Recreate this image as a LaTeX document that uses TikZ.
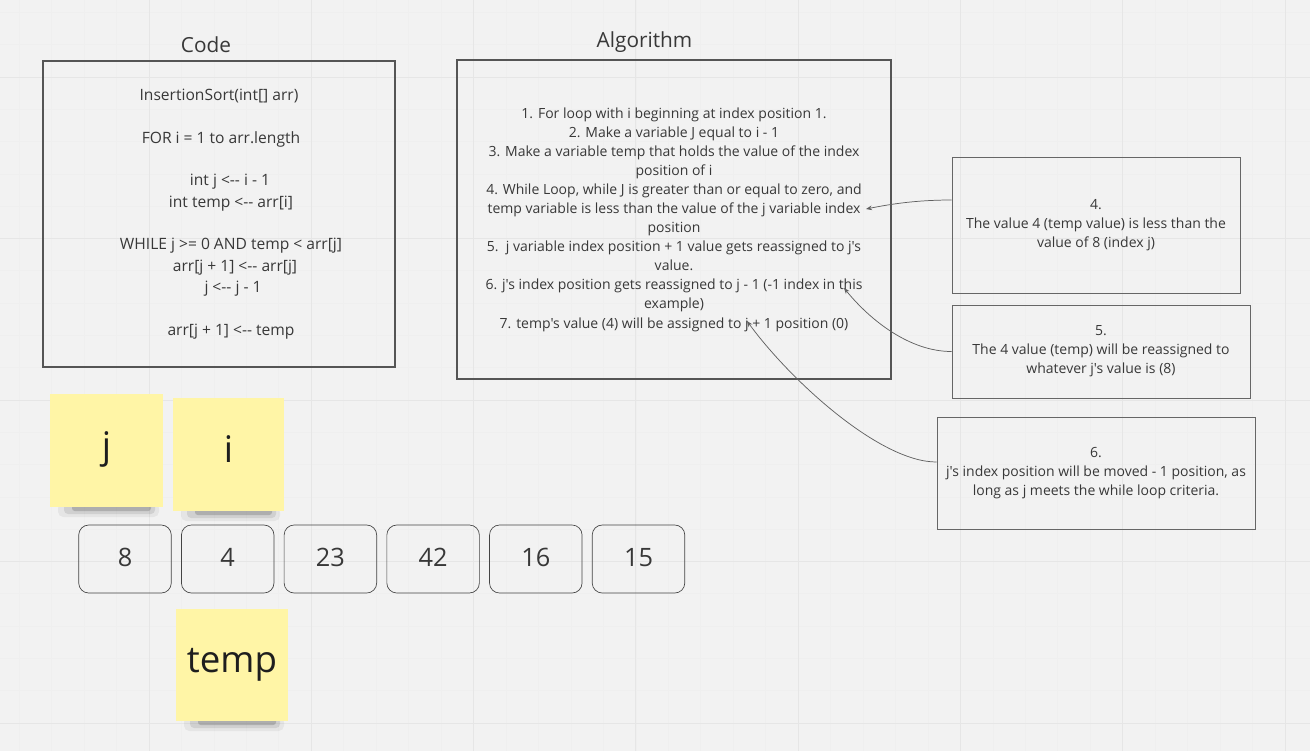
\documentclass[tikz,border=0pt]{standalone}
\usepackage{fontspec}
\setmainfont{Open Sans}[Ligatures=TeXOff]
\usetikzlibrary{arrows.meta}
\definecolor{bg}{HTML}{F2F2F2}
\definecolor{gridminor}{HTML}{EFEFEF}
\definecolor{gridmajor}{HTML}{E6E6E6}
\definecolor{boxline}{HTML}{555555}
\definecolor{noteline}{HTML}{666666}
\definecolor{cellline}{HTML}{444444}
\definecolor{txt}{HTML}{383838}
\definecolor{stickyc}{HTML}{FFF5A6}
\definecolor{stickytxt}{HTML}{1E1E1E}
\definecolor{linkc}{HTML}{606060}
\newcommand\cdfont{\fontsize{11.7pt}{16pt}\selectfont}
\newcommand\algfont{\fontsize{10.5pt}{14.3pt}\selectfont}
\newcommand\ttlfont{\fontsize{15.6pt}{18pt}\selectfont}
\newcommand\cellfont{\fontsize{19pt}{22pt}\selectfont}
\newcommand\stkfont{\fontsize{27.5pt}{32pt}\selectfont}
\newcommand\stickyshadow[3]{%
  \fill[black,opacity=0.05,rounded corners=4pt] (#1+8,#3-4) rectangle (#2-4,#3+10);
  \fill[black,opacity=0.09,rounded corners=3pt] (#1+14,#3-4) rectangle (#2-8,#3+7);
  \fill[black,opacity=0.16,rounded corners=2pt] (#1+22,#3-4) rectangle (#2-12,#3+4);
}
\begin{document}
\begin{tikzpicture}[x=0.75pt,y=-0.75pt,
  panel/.style={draw=boxline, line width=0.8pt, inner sep=0pt, align=center, text=txt},
  note/.style={draw=noteline, line width=0.75pt, inner sep=0pt, align=center, text=txt, font=\algfont},
  cell/.style={draw=cellline, line width=0.5pt, rounded corners=7.5pt, minimum width=69.4pt, minimum height=51pt, inner sep=0pt, text height=10.5pt, text depth=0pt, font=\cellfont, text=txt},
  sticky/.style={fill=stickyc, inner sep=0pt, text height=11.25pt, text depth=0pt, font=\stkfont, text=stickytxt},
  title/.style={anchor=base, font=\ttlfont, text=txt, inner sep=0pt},
  link/.style={draw=linkc, line width=0.55pt, -{Stealth[length=4.5pt,width=3.5pt]}}
]
\useasboundingbox (0,0) rectangle (1310,751);
\fill[bg] (0,0) rectangle (1310,751);
% grid
\foreach \k in {0,...,40} {\draw[gridminor, line width=0.6pt] (19.16+32.46*\k,0) -- (19.16+32.46*\k,751);}
\foreach \k in {0,...,23} {\draw[gridminor, line width=0.6pt] (0,12.4+32.3*\k) -- (1310,12.4+32.3*\k);}
\foreach \k in {0,...,7} {\draw[gridmajor, line width=0.75pt] (149+162.3*\k,0) -- (149+162.3*\k,751);}
\foreach \k in {0,...,4} {\draw[gridmajor, line width=0.75pt] (0,77+161.5*\k) -- (1310,77+161.5*\k);}

% titles
\node[title] (codettl) at (206,52.5) {Code};
\node[title] (algttl) at (644.5,47) {Algorithm};

% code box
\node[panel, minimum width=264pt, minimum height=229.5pt, font=\cdfont] (code) at (219,214) {%
InsertionSort(int[] arr)\\[16pt]
\hspace*{3pt}FOR i = 1 to arr.length\\[16pt]
\hspace*{16.5pt}int j <-- i - 1\\
\hspace*{18pt}int temp <-- arr[i]\\[16pt]
\hspace*{18pt}WHILE j >= 0 AND temp < arr[j]\\
\hspace*{24pt}arr[j + 1] <-- arr[j]\\
\hspace*{21pt}j <-- j - 1\\[16pt]
\hspace*{18pt}arr[j + 1] <-- temp};

% algorithm box
\node[panel, minimum width=325.5pt, minimum height=239.25pt, font=\algfont] (alg) at (674,219.5) {%
1. For loop with i beginning at index position 1.\\
2. Make a variable J equal to i - 1\\
3. Make a variable temp that holds the value of the index\\
position of i\\
4. While Loop, while J is greater than or equal to zero, and\\
temp variable is less than the value of the j variable index\\
position\\
5.\ \ j variable index position + 1 value gets reassigned to j's\\
value.\\
6. j's index position gets reassigned to j - 1 (-1 index in this\\
example)\\
7. temp's value (4) will be assigned to j + 1 position (0)};

% note boxes
\node[note, minimum width=216pt, minimum height=102pt] (n4) at (1096,225) {4.\\The value 4 (temp value) is less than the\\value of 8 (index j)};
\node[note, minimum width=223.5pt, minimum height=69.75pt] (n5) at (1101,351.5) {5.\\The 4 value (temp) will be reassigned to\\whatever j's value is (8)};
\node[note, minimum width=238.5pt, minimum height=84pt] (n6) at (1096,473) {6.\\j's index position will be moved - 1 position, as\\long as j meets the while loop criteria.};

% connector targets
\coordinate (t4) at (866,209);
\coordinate (t5) at (844,288);
\coordinate (t6) at (747,321);
\draw[link] ([yshift=18.75pt]n4.west) .. controls +(-35,0) and +(25,-5) .. (t4);
\draw[link] (n5.west) .. controls +(-42,0) and +(26,32) .. (t5);
\draw[link] ([yshift=8.25pt]n6.west) .. controls +(-57,0) and +(43,59) .. (t6);

% array cells
\foreach \v [count=\i from 0] in {8,4,23,42,16,15} {
  \node[cell] (cell\i) at (125+102.7*\i,559) {\v};
}

% sticky notes
\stickyshadow{50}{163}{507}
\stickyshadow{173}{284}{511}
\stickyshadow{176}{288}{721}
\node[sticky, minimum width=84.75pt, minimum height=84.75pt] (stj) at (106.5,450.5) {j};
\node[sticky, minimum width=83.25pt, minimum height=84.75pt] (sti) at (228.5,454.5) {i};
\node[sticky, minimum width=84pt, minimum height=84pt] (sttemp) at (232,665) {temp};
\end{tikzpicture}
\end{document}
